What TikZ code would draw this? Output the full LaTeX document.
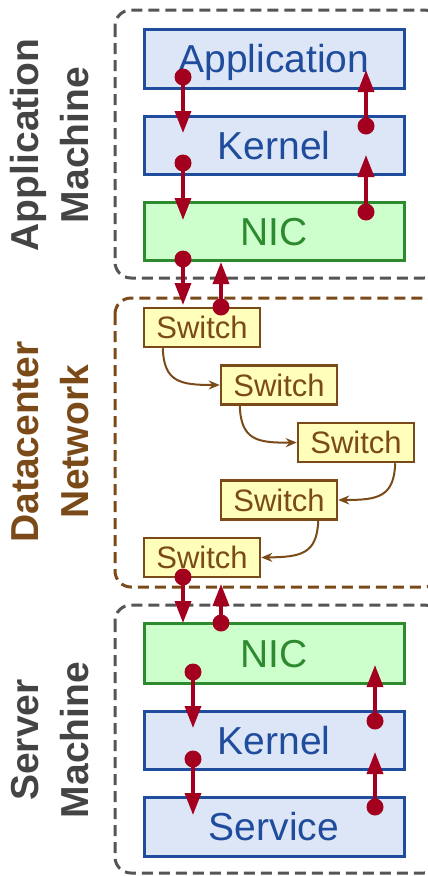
\documentclass[tikz,border=0pt]{standalone}
\usepackage{fontspec}
\setmainfont{Liberation Sans}
\usetikzlibrary{arrows.meta,calc}
\definecolor{bluefill}{HTML}{DCE6F6}
\definecolor{blueline}{HTML}{1F4C9C}
\definecolor{greenfill}{HTML}{CCFFCC}
\definecolor{greenline}{HTML}{2E8A2E}
\definecolor{swfill}{HTML}{FFFFBB}
\definecolor{brownline}{HTML}{7A4A18}
\definecolor{redarr}{HTML}{A3001F}
\definecolor{grayline}{HTML}{555555}
\definecolor{graytext}{HTML}{444444}
\begin{document}
\begin{tikzpicture}[x=1pt,y=-1pt,
  layerbox/.style={draw=blueline,fill=bluefill,line width=3pt,minimum width=260pt,text=blueline,font=\fontsize{39}{39}\selectfont,inner sep=0pt,text height=28pt,text depth=0pt},
  nicbox/.style={draw=greenline,fill=greenfill,line width=3pt,minimum width=260pt,text=greenline,font=\fontsize{39}{39}\selectfont,inner sep=0pt,text height=28pt,text depth=0pt},
  swbox/.style={draw=brownline,fill=swfill,line width=2.5pt,minimum width=116pt,minimum height=39pt,text=brownline,font=\fontsize{31}{31}\selectfont,inner sep=0pt,text height=22pt,text depth=0pt},
  machbox/.style={draw=grayline,dash pattern=on 11pt off 6pt,line width=3pt,rounded corners=16pt},
  netbox/.style={draw=brownline,dash pattern=on 11pt off 6pt,line width=3pt,rounded corners=16pt},
  flow/.style={draw=redarr,line width=3.5pt,-{Triangle[length=22pt,width=16pt]}},
  dotc/.style={fill=redarr},
  hop/.style={draw=brownline,line width=2pt,-{Stealth[length=11pt,width=9pt]}},
  sidelabel/.style={rotate=90,align=center,font=\bfseries\fontsize{39}{50}\selectfont,inner sep=0pt}
]
\useasboundingbox (0,0) rectangle (428,876);
\begin{scope}
\clip (0,0) rectangle (428,876);
% group boxes
\draw[machbox] (115,10) rectangle (440,278);
\draw[netbox] (115,298) rectangle (440,587);
\draw[machbox] (115,605) rectangle (440,873);
\end{scope}

% side labels
\node[sidelabel,text=graytext] (lapp) at (50,145) {Application\\Machine};
\node[sidelabel,text=brownline] (lnet) at (50,442) {Datacenter\\Network};
\node[sidelabel,text=graytext] (lsrv) at (50,740) {Server\\Machine};

% application machine
\node[layerbox,minimum height=59pt] (app) at (274,58.5) {Application};
\node[layerbox,minimum height=58pt] (ak) at (274,145) {Kernel};
\node[nicbox,minimum height=58pt] (anic) at (274,231) {NIC};

% switches
\node[swbox] (s1) at (202,327.5) {Switch};
\node[swbox] (s2) at (279,385) {Switch};
\node[swbox] (s3) at (356,442.5) {Switch};
\node[swbox] (s4) at (279,500) {Switch};
\node[swbox] (s5) at (202,557.5) {Switch};

% server machine
\node[nicbox,minimum height=60pt] (snic) at (274,653) {NIC};
\node[layerbox,minimum height=58pt] (sk) at (274,740) {Kernel};
\node[layerbox,minimum height=59pt] (svc) at (274,826.5) {Service};

% switch hops
\draw[hop] (s1.south west) ++(20,0) coordinate (h1) (h1) .. controls (164,382) and (180,385) .. (s2.west);
\draw[hop] (s2.south west) ++(20,0) coordinate (h2) (h2) .. controls (241,440) and (257,443) .. (s3.west);
\draw[hop] (s3.south east) ++(-20,0) coordinate (h3) (h3) .. controls (394,497) and (378,500) .. (s4.east);
\draw[hop] (s4.south east) ++(-20,0) coordinate (h4) (h4) .. controls (317,554) and (301,557) .. (s5.east);

% coordinates for flow arrows
\coordinate (a1) at (183,77);  \coordinate (a1e) at (183,133);
\coordinate (a2) at (183,163); \coordinate (a2e) at (183,220);
\coordinate (a3) at (183,259); \coordinate (a3e) at (183,305);
\coordinate (r1) at (366,126); \coordinate (r1e) at (366,70);
\coordinate (r2) at (366,212); \coordinate (r2e) at (366,155);
\coordinate (r3) at (221,307); \coordinate (r3e) at (221,262);

\coordinate (b1) at (183,577); \coordinate (b1e) at (183,623);
\coordinate (b2) at (193,672); \coordinate (b2e) at (193,728);
\coordinate (b3) at (193,759); \coordinate (b3e) at (193,815);
\coordinate (u1) at (221,623); \coordinate (u1e) at (221,584);
\coordinate (u2) at (375,721); \coordinate (u2e) at (375,665);
\coordinate (u3) at (375,807); \coordinate (u3e) at (375,752);

\foreach \s/\e in {a1/a1e,a2/a2e,a3/a3e,r1/r1e,r2/r2e,r3/r3e,b1/b1e,b2/b2e,b3/b3e,u1/u1e,u2/u2e,u3/u3e}{
  \draw[flow] (\s) -- (\e);
  \fill[dotc] (\s) circle (8.5pt);
}
\end{tikzpicture}
\end{document}
